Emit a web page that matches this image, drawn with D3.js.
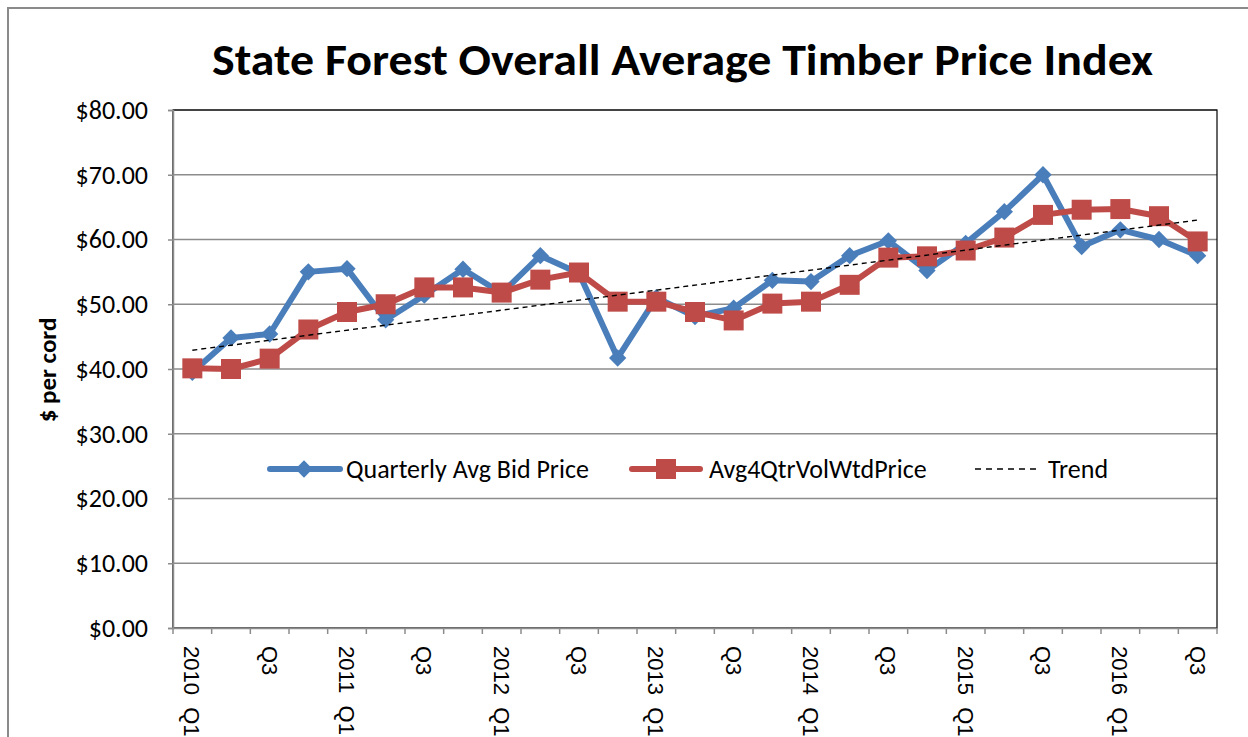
<!DOCTYPE html>
<html>
<head>
<meta charset="utf-8">
<script src="https://cdn.jsdelivr.net/npm/d3@7"></script>
<style>
  body { margin: 0; background: #fff; }
  text { font-family: Carlito, Calibri, Lato, sans-serif; }
</style>
</head>
<body>
<script>
// quarters, 2010 Q1 .. 2016 Q3
var quarters = ['2010 Q1', 'Q2', 'Q3', 'Q4',
                '2011 Q1', 'Q2', 'Q3', 'Q4',
                '2012 Q1', 'Q2', 'Q3', 'Q4',
                '2013 Q1', 'Q2', 'Q3', 'Q4',
                '2014 Q1', 'Q2', 'Q3', 'Q4',
                '2015 Q1', 'Q2', 'Q3', 'Q4',
                '2016 Q1', 'Q2', 'Q3'];

var bidPrice = [39.5, 44.8, 45.4, 55.0, 55.5, 47.6, 51.4, 55.4,
                51.7, 57.5, 54.8, 41.7, 51.0, 48.1, 49.4, 53.7,
                53.5, 57.5, 59.8, 55.2, 59.4, 64.3, 70.0, 58.9,
                61.5, 60.0, 57.5];

var volWtdPrice = [40.1, 40.0, 41.6, 46.1, 48.8, 50.0, 52.6, 52.6,
                   51.8, 53.8, 54.9, 50.4, 50.4, 48.8, 47.5, 50.1,
                   50.4, 53.0, 57.2, 57.4, 58.3, 60.3, 63.8, 64.6,
                   64.7, 63.6, 59.7];

// trend line end values (first and last quarter)
var trendEnds = [42.9, 63.0];

var yTicks = [0, 10, 20, 30, 40, 50, 60, 70, 80];

var blue = '#4A7EBB';
var red = '#BE4B48';

var svg = d3.select('body').append('svg')
    .attr('width', 1248)
    .attr('height', 737);

// outer chart border
svg.append('rect')
    .attr('x', 8)
    .attr('y', 8)
    .attr('width', 1300)
    .attr('height', 800)
    .attr('fill', '#fff')
    .attr('stroke', '#8a8a8a')
    .attr('stroke-width', 2);

// title
svg.append('text')
    .attr('x', 212)
    .attr('y', 75)
    .attr('textLength', 941)
    .attr('lengthAdjust', 'spacingAndGlyphs')
    .style('font-size', '44px')
    .style('font-weight', 'bold')
    .text('State Forest Overall Average Timber Price Index');

var x = d3.scaleBand()
    .domain(d3.range(quarters.length))
    .range([173, 1217]);

var y = d3.scaleLinear()
    .domain([0, 80])
    .range([628, 110]);

function cx(i) { return x(i) + x.bandwidth() / 2; }

// gridlines
svg.append('g')
    .selectAll('line')
    .data(yTicks.slice(1))
    .enter().append('line')
    .attr('x1', 173)
    .attr('x2', 1217)
    .attr('y1', function(d) { return y(d); })
    .attr('y2', function(d) { return y(d); })
    .attr('stroke', '#8c8c8c')
    .attr('stroke-width', 1.5);

// plot area border
svg.append('rect')
    .attr('x', 173)
    .attr('y', 110)
    .attr('width', 1044)
    .attr('height', 518)
    .attr('fill', 'none')
    .attr('stroke', '#000')
    .attr('stroke-width', 1.2);

// y axis
var yAxis = svg.append('g')
    .attr('transform', 'translate(173,0)')
    .call(d3.axisLeft(y)
        .tickValues(yTicks)
        .tickSize(5)
        .tickPadding(20)
        .tickFormat(function(d) { return '$' + d.toFixed(2); }));
yAxis.select('.domain').attr('stroke', '#8c8c8c').attr('stroke-width', 1.5);
yAxis.selectAll('.tick line').attr('stroke', '#8c8c8c').attr('stroke-width', 1.5);
yAxis.selectAll('.tick text')
    .style('font-size', '26px')
    .style('font-family', 'Carlito, Calibri, Lato, sans-serif')
    .attr('fill', '#000');

svg.append('text')
    .attr('transform', 'translate(56,370) rotate(-90)')
    .attr('text-anchor', 'middle')
    .style('font-size', '25px')
    .style('font-weight', 'bold')
    .text('$ per cord');

// x axis, every other quarter labelled
var xAxis = svg.append('g')
    .attr('transform', 'translate(0,628)')
    .call(d3.axisBottom(x)
        .tickSize(0)
        .tickFormat(function(i) {
            return i % 2 === 0 ? quarters[i].replace(' ', '\u00a0\u00a0') : '';
        }));
xAxis.select('.domain').attr('stroke', '#8c8c8c').attr('stroke-width', 1.5);
xAxis.selectAll('.tick text')
    .attr('transform', 'rotate(90)')
    .attr('x', 18)
    .attr('y', 0)
    .attr('dy', '0.36em')
    .style('text-anchor', 'start')
    .style('font-size', '22px')
    .style('font-family', '"Liberation Sans", Arial, sans-serif')
    .attr('fill', '#000');

xAxis.selectAll('.qtick')
    .data(d3.range(quarters.length + 1))
    .enter().append('line')
    .attr('x1', function(i) { return i < quarters.length ? x(i) : 1217; })
    .attr('x2', function(i) { return i < quarters.length ? x(i) : 1217; })
    .attr('y1', 0)
    .attr('y2', 6)
    .attr('stroke', '#8c8c8c')
    .attr('stroke-width', 1.5);

// series lines
var line = d3.line()
    .x(function(d, i) { return cx(i); })
    .y(function(d) { return y(d); });

svg.append('path')
    .datum(bidPrice)
    .attr('d', line)
    .attr('fill', 'none')
    .attr('stroke', blue)
    .attr('stroke-width', 6)
    .attr('stroke-linejoin', 'round');

svg.selectAll('.diamond')
    .data(bidPrice)
    .enter().append('path')
    .attr('d', d3.symbol().type(d3.symbolSquare).size(150))
    .attr('transform', function(d, i) { return 'translate(' + cx(i) + ',' + y(d) + ') rotate(45)'; })
    .attr('fill', blue);

svg.append('path')
    .datum(volWtdPrice)
    .attr('d', line)
    .attr('fill', 'none')
    .attr('stroke', red)
    .attr('stroke-width', 6)
    .attr('stroke-linejoin', 'round');

svg.selectAll('.square')
    .data(volWtdPrice)
    .enter().append('path')
    .attr('d', d3.symbol().type(d3.symbolSquare).size(400))
    .attr('transform', function(d, i) { return 'translate(' + cx(i) + ',' + y(d) + ')'; })
    .attr('fill', red);

// trend
svg.append('line')
    .attr('x1', cx(0))
    .attr('x2', cx(quarters.length - 1))
    .attr('y1', y(trendEnds[0]))
    .attr('y2', y(trendEnds[1]))
    .attr('stroke', '#000')
    .attr('stroke-width', 1.4)
    .attr('stroke-dasharray', '5,4');

// legend
var legend = svg.append('g');
legend.append('line')
    .attr('x1', 270).attr('x2', 340).attr('y1', 469).attr('y2', 469)
    .attr('stroke', blue).attr('stroke-width', 6).attr('stroke-linecap', 'round');
legend.append('path')
    .attr('d', d3.symbol().type(d3.symbolSquare).size(150))
    .attr('transform', 'translate(304,469) rotate(45)')
    .attr('fill', blue);
legend.append('text')
    .attr('x', 346).attr('y', 478)
    .style('font-size', '26px')
    .text('Quarterly Avg Bid Price');

legend.append('line')
    .attr('x1', 632).attr('x2', 700).attr('y1', 469).attr('y2', 469)
    .attr('stroke', red).attr('stroke-width', 6).attr('stroke-linecap', 'round');
legend.append('path')
    .attr('d', d3.symbol().type(d3.symbolSquare).size(400))
    .attr('transform', 'translate(666,469)')
    .attr('fill', red);
legend.append('text')
    .attr('x', 709).attr('y', 478)
    .style('font-size', '26px')
    .text('Avg4QtrVolWtdPrice');

legend.append('line')
    .attr('x1', 975).attr('x2', 1040).attr('y1', 469).attr('y2', 469)
    .attr('stroke', '#000').attr('stroke-width', 1.4)
    .attr('stroke-dasharray', '6,5');
legend.append('text')
    .attr('x', 1048).attr('y', 478)
    .style('font-size', '26px')
    .text('Trend');
</script>
</body>
</html>
